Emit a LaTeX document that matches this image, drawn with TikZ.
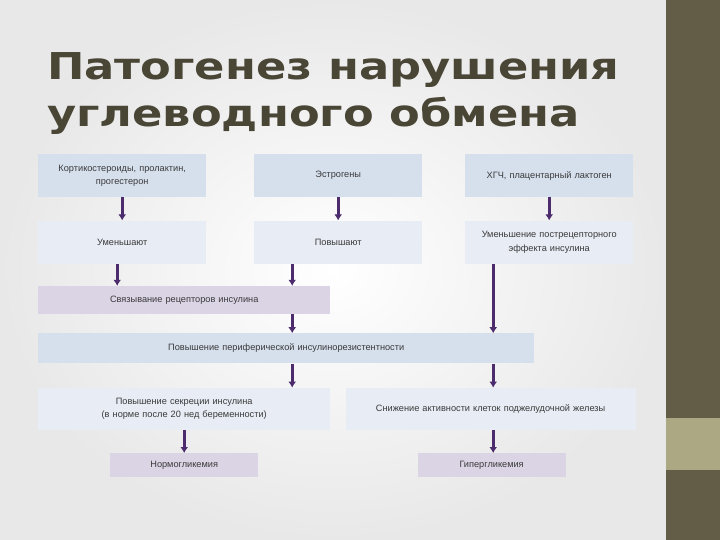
\documentclass[tikz,border=0pt]{standalone}
\usepackage{fontspec}
\setmainfont{Liberation Sans}
\newfontfamily\titlefont[FakeStretch=1.21]{DejaVu Sans}
\usetikzlibrary{arrows.meta, positioning}
\definecolor{boxblue}{HTML}{D6E0ED}
\definecolor{boxpale}{HTML}{E8ECF4}
\definecolor{boxlav}{HTML}{DBD4E5}
\definecolor{arrowc}{HTML}{4D2C6E}
\definecolor{textgray}{HTML}{3A3A3A}
\definecolor{titlec}{HTML}{4A4636}
\definecolor{stripc}{HTML}{635C46}
\definecolor{bandc}{HTML}{ABA883}
\tikzset{
>={Latex[length=6pt,width=8pt]}, % arrow tips
node distance=23pt, % gap between the rows
box/.style={inner sep=0pt, align=center, text width=#1,
  font=\fontsize{9.2}{13.5}\selectfont, text=textgray},
box/.default=160pt,
topbox/.style={box, fill=boxblue, minimum width=168pt, minimum height=43pt},
midbox/.style={box, fill=boxpale, minimum width=168pt, minimum height=43pt},
lavbox/.style={box=#1, fill=boxlav},
lavbox/.default=140pt,
arr/.style={color=arrowc, line width=3pt}, % purple connectors
title/.style={font=\titlefont\bfseries\fontsize{37}{47}\selectfont, text=titlec, align=left, inner sep=0pt},
}
\begin{document}
\begin{tikzpicture}[x=1pt, y=-1pt]
  \useasboundingbox (0,0) rectangle (720,540);
  % slide background
  \shade[inner color=white, outer color=black!9] (0,0) rectangle (666,540);
  \fill[stripc] (666,0) rectangle (720,540);
  \fill[bandc] (666,418) rectangle (720,470);

  \node[title, anchor=base west] (title) at (47,127) {Патогенез нарушения\\углеводного обмена};

  % first row
  \node[topbox, anchor=north west] (k1) at (38,154) {Кортикостероиды, пролактин,\\прогестерон};
  \node[topbox, anchor=north west] (e1) at (254,154) {Эстрогены};
  \node[topbox, anchor=north west] (h1) at (465,154) {ХГЧ, плацентарный лактоген};

  \node[midbox, below=of k1] (k2) {Уменьшают};
  \node[midbox, below=of e1] (e2) {Повышают};
  \node[midbox, below=of h1] (h2) {Уменьшение пострецепторного эффекта инсулина};

  \node[lavbox=280pt, minimum width=292pt, minimum height=28pt, below=22pt of k2.south west, anchor=north west] (bind) {Связывание рецепторов инсулина};
  \node[box=480pt, fill=boxblue, minimum width=496pt, minimum height=30pt, below=19pt of bind.south west, anchor=north west] (resist) {Повышение периферической инсулинорезистентности};

  \node[box=280pt, fill=boxpale, minimum width=292pt, minimum height=42pt, below=24pt of resist.south west, anchor=north west] (secr) {Повышение секреции инсулина\\(в норме после 20 нед беременности)};
  \node[box=280pt, fill=boxpale, minimum width=290pt, minimum height=42pt, right=15pt of secr] (act) {Снижение активности клеток поджелудочной железы};

  \node[lavbox, minimum width=148pt, minimum height=24pt, below=of secr.south west, anchor=north west, xshift=72pt] (normo) {Нормогликемия};
  \node[lavbox, minimum width=148pt, minimum height=24pt, below=of act.south west, anchor=north west, xshift=72pt] (hyper) {Гипергликемия};

  \coordinate (colk) at ([xshift=-5pt]k2.south);
  \coordinate (cole) at ([xshift=-46pt]e2.south);
  \coordinate (colh) at ([xshift=-56pt]h2.south);

  \path[->, arr]
  (k1) edge (k2)
  (e1) edge (e2)
  (h1) edge (h2)
  (colk) edge (colk |- bind.north)
  (cole) edge (cole |- bind.north)
  (bind.south -| cole) edge (cole |- resist.north)
  (colh) edge (colh |- resist.north)
  (resist.south -| cole) edge (cole |- secr.north)
  (resist.south -| colh) edge (colh |- act.north)
  (secr.south -| normo.north) edge (normo.north)
  (act.south -| colh) edge (colh |- hyper.north);
\end{tikzpicture}
\end{document}
